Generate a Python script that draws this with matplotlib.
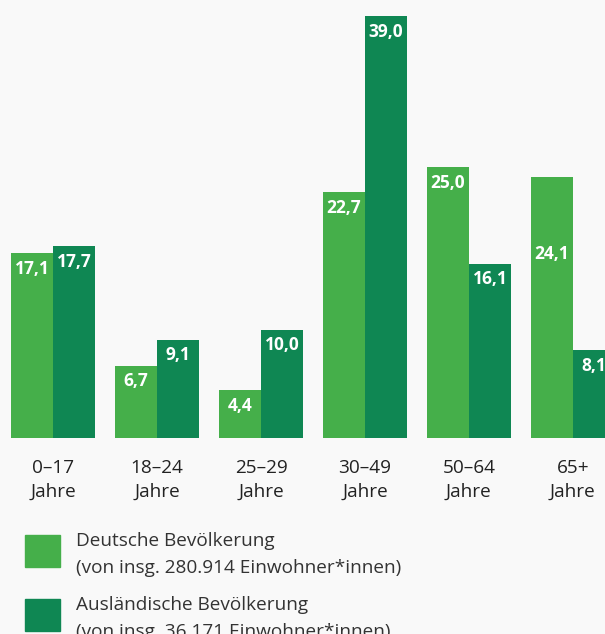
import matplotlib
matplotlib.use('Agg')
import matplotlib.pyplot as plt
from matplotlib.patches import Rectangle

# data
groups = ['0–17\nJahre', '18–24\nJahre', '25–29\nJahre', '30–49\nJahre', '50–64\nJahre', '65+\nJahre']
deutsche = [17.1, 6.7, 4.4, 22.7, 25.0, 24.1]
auslaendische = [17.7, 9.1, 10.0, 39.0, 16.1, 8.1]
legend_labels = ['Deutsche Bevölkerung\n(von insg. 280.914 Einwohner*innen)',
                 'Ausländische Bevölkerung\n(von insg. 36.171 Einwohner*innen)']

c_light = '#45af4a'
c_dark = '#0f8753'
bg = '#f9f9f9'

matplotlib.rcParams['font.family'] = ['Open Sans', 'DejaVu Sans']

W, H = 605, 634
fig = plt.figure(figsize=(W / 100, H / 100), dpi=100, facecolor=bg)
ax = fig.add_axes([0, (H - 438) / H, 1, 438 / H])
ax.set_facecolor(bg)

w = 0.404
x = list(range(len(groups)))
b1 = ax.bar([i - w / 2 for i in x], deutsche, width=w, color=c_light)
b2 = ax.bar([i + w / 2 for i in x], auslaendische, width=w, color=c_dark)

ax.set_xlim(-0.511, 5.309)
ax.set_ylim(0, 40.48)

def fmt(v):
    return ('%.1f' % v).replace('.', ',')

for bars, vals in ((b1, deutsche), (b2, auslaendische)):
    for r, v in zip(bars, vals):
        off = 1.9
        if bars is b1 and v == 24.1:
            off = 7.6  # label sits lower in the original
        ax.text(r.get_x() + r.get_width() / 2, v - off, fmt(v), ha='center', va='baseline',
                color='white', fontsize=12.5, fontweight='bold')

ax.set_xticks(x)
ax.set_xticklabels(groups, fontsize=13.7, color='#222222', linespacing=1.4)
ax.tick_params(axis='x', length=0, pad=15)
ax.set_yticks([])
for s in ax.spines.values():
    s.set_visible(False)

# legend (baseline given for the second text line)
for k, (lab, col) in enumerate(zip(legend_labels, [c_light, c_dark])):
    y0 = 535 + k * 64
    fig.patches.append(Rectangle((25 / W, 1 - (y0 + 32) / H), 35 / W, 32 / H,
                                 transform=fig.transFigure, color=col))
    fig.text(76 / W, 1 - (y0 + 38) / H, lab, fontsize=13.7, color='#333333',
             va='baseline', ha='left', linespacing=1.65)

fig.savefig('out.png', dpi=100, facecolor=bg)
